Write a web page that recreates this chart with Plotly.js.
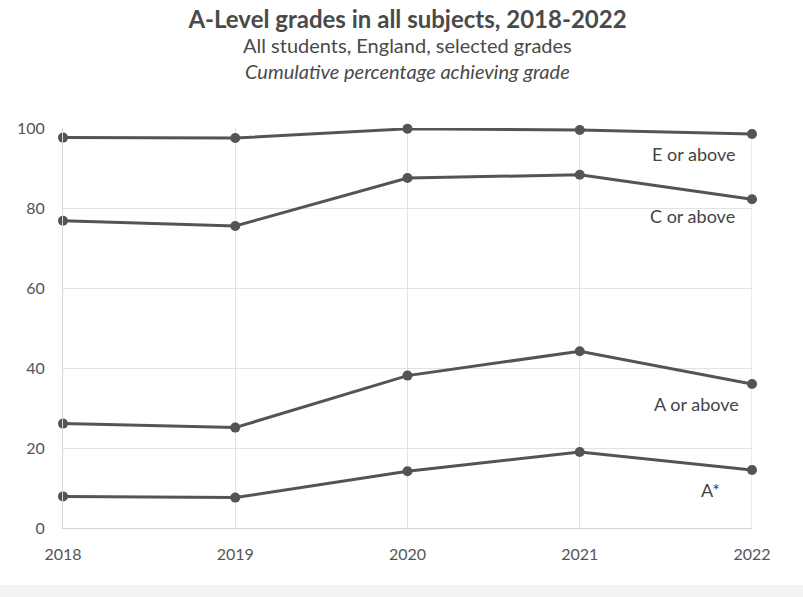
<!DOCTYPE html>
<html>
<head>
<meta charset="utf-8">
<script src="https://cdn.plot.ly/plotly-3.0.1.min.js"></script>
<style>
html,body{margin:0;padding:0;background:#fff;}
#chart{width:803px;height:597px;}
</style>
</head>
<body>
<div id="chart"></div>
<script>
var years = [2018, 2019, 2020, 2021, 2022];
var eOrAbove = [97.6, 97.5, 99.8, 99.5, 98.5];
var cOrAbove = [76.8, 75.5, 87.5, 88.3, 82.2];
var aOrAbove = [26.1, 25.1, 38.1, 44.2, 36.0];
var aStar = [7.9, 7.6, 14.2, 19.0, 14.5];
var seriesNames = ["E or above", "C or above", "A or above", "A*"];
var seriesValues = [eOrAbove, cOrAbove, aOrAbove, aStar];
var subtitleLines = ["All students, England, selected grades", "<i>Cumulative percentage achieving grade</i>"];

var lineColor = "#545454";
var traces = seriesValues.map(function (vals, i) {
  return {
    x: years, y: vals, name: seriesNames[i], type: "scatter", mode: "lines+markers",
    line: {color: lineColor, width: 3},
    marker: {color: lineColor, size: 10},
    cliponaxis: false,
    hoverinfo: "x+y+name"
  };
});

var labelPos = [
  {y: 93.5, xshift: -14},
  {y: 78, xshift: -15},
  {y: 31, xshift: -11},
  {y: 9.5, xshift: -30}
];
var annotations = seriesNames.map(function (n, i) {
  return {
    x: years[years.length - 1], y: labelPos[i].y, xref: "x", yref: "y",
    text: n, showarrow: false, xanchor: "right", yanchor: "middle",
    xshift: labelPos[i].xshift,
    font: {family: "Lato, sans-serif", size: 18, color: "#444"}
  };
});
var subShifts = [83, 57];
subtitleLines.forEach(function (t, i) {
  annotations.push({
    x: 0.5, xref: "paper", y: 1, yref: "paper", yanchor: "middle", xanchor: "center",
    yshift: subShifts[i], showarrow: false, text: t,
    font: {family: "Lato, sans-serif", size: 20, color: "#4a4a4a"}
  });
});

var layout = {
  width: 803, height: 597,
  paper_bgcolor: "#fff", plot_bgcolor: "#fff",
  margin: {l: 63, r: 51, t: 128, b: 69},
  showlegend: false,
  title: {
    text: "<b>A-Level grades in all subjects, 2018-2022</b>",
    x: 0.5, xref: "paper", xanchor: "center",
    y: 0.967, yref: "container", yanchor: "middle",
    font: {family: "Lato, sans-serif", size: 24, color: "#4a4a4a"}
  },
  xaxis: {
    range: [2018, 2022], tickvals: years, ticktext: years.map(String),
    showgrid: true, gridcolor: "#e2e2e2", gridwidth: 1,
    showline: true, linecolor: "#d6d6d6", linewidth: 1, mirror: false,
    zeroline: false, ticks: "", ticklabelstandoff: 12,
    tickfont: {family: "Lato, sans-serif", size: 16, color: "#555"}
  },
  yaxis: {
    range: [0, 100], tickvals: [0, 20, 40, 60, 80, 100],
    showgrid: true, gridcolor: "#e2e2e2", gridwidth: 1,
    showline: true, linecolor: "#d6d6d6", linewidth: 1,
    zeroline: false, ticks: "", ticklabelstandoff: 14,
    tickfont: {family: "Lato, sans-serif", size: 16, color: "#555"}
  },
  annotations: annotations,
  shapes: [
    {type: "line", xref: "x", yref: "paper", x0: 2022, x1: 2022, y0: 0, y1: 1, line: {color: "#d6d6d6", width: 1}, layer: "below"},
    {type: "rect", xref: "paper", yref: "paper", x0: -0.2, x1: 1.2, y0: -0.1425, y1: -0.18, fillcolor: "#f3f3f3", line: {width: 0}, layer: "below"}
  ]
};

Plotly.newPlot("chart", traces, layout, {displayModeBar: false});
</script>
</body>
</html>
